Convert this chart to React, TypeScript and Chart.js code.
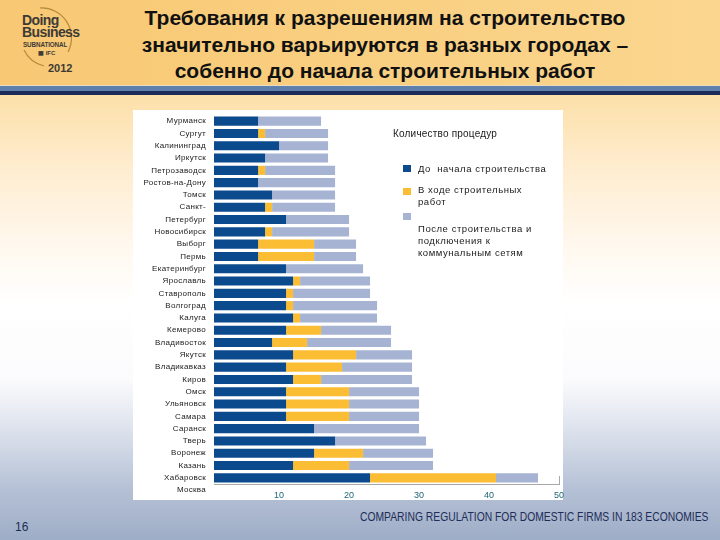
import React, { useEffect, useRef } from "react";
import { Chart, registerables } from "chart.js";

Chart.register(...registerables);

// ---- data ----
const cities = [
  "Мурманск", "Сургут", "Калининград", "Иркутск", "Петрозаводск", "Ростов-на-Дону",
  "Томск", "Санкт-Петербург", "Новосибирск", "Выборг", "Пермь", "Екатеринбург",
  "Ярославль", "Ставрополь", "Волгоград", "Калуга", "Кемерово", "Владивосток",
  "Якутск", "Владикавказ", "Киров", "Омск", "Ульяновск", "Самара", "Саранск",
  "Тверь", "Воронеж", "Казань", "Хабаровск", "Москва",
];
// label text lines as printed on the slide (Санкт-Петербург wraps onto two lines)
const labelLines = [
  "Мурманск", "Сургут", "Калининград", "Иркутск", "Петрозаводск", "Ростов-на-Дону",
  "Томск", "Санкт-", "Петербург", "Новосибирск", "Выборг", "Пермь", "Екатеринбург",
  "Ярославль", "Ставрополь", "Волгоград", "Калуга", "Кемерово", "Владивосток",
  "Якутск", "Владикавказ", "Киров", "Омск", "Ульяновск", "Самара", "Саранск",
  "Тверь", "Воронеж", "Казань", "Хабаровск", "Москва",
];
const beforeConstruction = [7, 7, 10, 8, 7, 7, 9, 8, 11, 8, 7, 7, 11, 12, 11, 11, 12, 11, 9, 12, 11, 12, 11, 11, 11, 15, 18, 15, 12, 23];
const duringConstruction = [0, 1, 0, 0, 1, 0, 0, 1, 0, 1, 8, 8, 0, 1, 1, 1, 1, 5, 5, 9, 8, 4, 9, 9, 9, 0, 0, 7, 8, 18];
const afterConstruction = [9, 9, 7, 9, 10, 11, 9, 9, 9, 11, 6, 6, 11, 10, 11, 12, 11, 10, 12, 8, 10, 13, 10, 10, 10, 15, 13, 10, 12, 6];
const xTicks = [10, 20, 30, 40, 50];

const seriesNames = ["До  начала строительства", "В ходе строительных\nработ", "После строительства и\nподключения к\nкоммунальным сетям"];
const legendTitle = "Количество процедур";
const titleLines = [
  "Требования к разрешениям на строительство",
  "значительно варьируются в разных городах –",
  "собенно до начала строительных работ",
];

const C_DARK = "#0b4a8c";
const C_YELLOW = "#fbbd33";
const C_LIGHT = "#a6b3d3";

const labelPlugin = {
  id: "cityLines",
  afterDraw(chart: any) {
    const y = chart.scales.y;
    const ctx = chart.ctx;
    ctx.save();
    ctx.font = '8px "Liberation Sans", Arial, sans-serif';
    try { (ctx as any).letterSpacing = "0.3px"; } catch (e) {}
    ctx.fillStyle = "#1a1a1a";
    ctx.textAlign = "right";
    ctx.textBaseline = "middle";
    labelLines.forEach((t, i) => {
      ctx.fillText(t, chart.chartArea.left - 8, y.getPixelForValue(i));
    });
    ctx.restore();
  },
};

const endTickPlugin = {
  id: "endTick",
  afterDraw(chart: any) {
    const x = chart.scales.x;
    const ctx = chart.ctx;
    const px = Math.round(x.getPixelForValue(50)) + 0.5;
    ctx.save();
    ctx.strokeStyle = "#a8a8a8";
    ctx.lineWidth = 1;
    ctx.beginPath();
    ctx.moveTo(px, chart.chartArea.bottom);
    ctx.lineTo(px, chart.chartArea.bottom - 8);
    ctx.stroke();
    ctx.restore();
  },
};

function BarChart() {
  const ref = useRef<HTMLCanvasElement>(null);
  useEffect(() => {
    const chart = new Chart(ref.current!, {
      type: "bar",
      data: {
        labels: cities,
        datasets: [
          { label: seriesNames[0], data: beforeConstruction, backgroundColor: C_DARK, borderWidth: 0 },
          { label: seriesNames[1], data: duringConstruction, backgroundColor: C_YELLOW, borderWidth: 0 },
          { label: seriesNames[2], data: afterConstruction, backgroundColor: C_LIGHT, borderWidth: 0 },
        ],
      },
      options: {
        indexAxis: "y",
        responsive: false,
        animation: false,
        layout: { padding: { left: 81, top: 5, right: 14, bottom: 0 } },
        datasets: { bar: { categoryPercentage: 1, barPercentage: 0.74 } },
        plugins: { legend: { display: false }, tooltip: { enabled: false } },
        scales: {
          y: { stacked: true, display: false },
          x: {
            stacked: true,
            min: 0.7,
            max: 50,
            grid: { display: false, drawTicks: false },
            border: { display: true, color: "#a8a8a8", width: 1 },
            afterBuildTicks: (s: any) => { s.ticks = xTicks.map((v) => ({ value: v })); },
            afterFit: (s: any) => { s.height = 16; },
            ticks: {
              padding: 6,
              color: "#1f6478",
              font: { family: '"Liberation Sans", Arial, sans-serif', size: 9 },
              maxRotation: 0,
              autoSkip: false,
            },
          },
        },
      },
      plugins: [labelPlugin, endTickPlugin],
    } as any);
    return () => chart.destroy();
  }, []);
  return <canvas ref={ref} width={440} height={390} style={{ position: "absolute", left: 133, top: 110 }} />;
}

const abs = (l: number, t: number, extra: any = {}) => ({ position: "absolute" as const, left: l, top: t, ...extra });

export default function App() {
  const legendFont = { fontFamily: '"Liberation Sans", Arial, sans-serif', fontSize: 9.5, color: "#1a1a1a", letterSpacing: "0.55px", lineHeight: "11.8px", whiteSpace: "pre" as const };
  const logoFont = { fontFamily: '"Liberation Sans", Arial, sans-serif', fontWeight: "bold", color: "#3d3a36" };
  return (
    <div style={{ position: "fixed", left: 0, top: 0, width: 720, height: 540, overflow: "hidden", background: "#ffffff" }}>
      <div style={abs(0, 95, { width: 720, height: 445, background: "linear-gradient(180deg, #fde0a9 0px, #feecce 70px, #fff8ee 150px, #ffffff 210px, #fbfbfd 285px, #d6dde9 345px, #b4c0d5 395px, #9eadc7 445px)" })} />
      {/* header */}
      <div style={abs(0, 0, { width: 720, height: 85, background: "linear-gradient(90deg, #f8c874 0%, #f9cf80 50%, #fbd68f 100%)" })} />
      <div style={abs(0, 85, { width: 720, height: 1, background: "#e9dcc0" })} />
      <div style={abs(0, 86, { width: 720, height: 5, background: "#5f7fad" })} />
      <div style={abs(0, 91, { width: 720, height: 4, background: "#1c2c58" })} />
      {/* logo */}
      <svg width="80" height="85" style={abs(0, 0)}>
        <path d="M 40 8 A 30 30 0 0 1 68 52" fill="none" stroke="#b48a3c" strokeWidth="1.2" />
        <path d="M 24 50 A 30 30 0 0 0 44 66" fill="none" stroke="#b48a3c" strokeWidth="1.2" />
      </svg>
      <div style={abs(22, 14, { ...logoFont, fontSize: 14, lineHeight: "12px", letterSpacing: "-0.6px" })}>Doing<br />Business</div>
      <div style={abs(23, 41, { ...logoFont, fontSize: 6.3, letterSpacing: "-0.1px" })}>SUBNATIONAL</div>
      <div style={abs(38, 49, { ...logoFont, fontSize: 6 })}>▦ IFC</div>
      <div style={abs(48, 62, { ...logoFont, fontSize: 11 })}>2012</div>
      {/* title */}
      <div style={abs(85, 5, { width: 600, textAlign: "center", fontFamily: '"Liberation Sans", Arial, sans-serif', fontWeight: "bold", fontSize: 21, lineHeight: "26.5px", color: "#111" })}>
        {titleLines.map((t, i) => <div key={i}>{t}</div>)}
      </div>
      {/* chart panel */}
      <div style={abs(133, 110, { width: 430, height: 390, background: "#ffffff" })} />
      <BarChart />
      {/* legend */}
      <div style={abs(393, 128, { ...legendFont, fontSize: 10, letterSpacing: "0.2px" })}>{legendTitle}</div>
      <div style={abs(403, 165, { width: 8, height: 7, background: C_DARK })} />
      <div style={abs(403, 188, { width: 8, height: 7, background: C_YELLOW })} />
      <div style={abs(403, 213, { width: 8, height: 7, background: C_LIGHT })} />
      <div style={abs(418, 163, legendFont)}>{seriesNames[0]}</div>
      <div style={abs(418, 184, legendFont)}>{seriesNames[1]}</div>
      <div style={abs(418, 223, legendFont)}>{seriesNames[2]}</div>
      {/* footer */}
      <div style={abs(360, 509, { fontFamily: '"Liberation Sans", Arial, sans-serif', fontSize: 13.5, color: "#1e2d57", whiteSpace: "nowrap", transform: "scaleX(0.765)", transformOrigin: "left center" })}>COMPARING REGULATION FOR DOMESTIC FIRMS IN 183 ECONOMIES</div>
      <div style={abs(15, 520, { fontFamily: '"Liberation Sans", Arial, sans-serif', fontSize: 12, color: "#1e2d57" })}>16</div>
    </div>
  );
}
